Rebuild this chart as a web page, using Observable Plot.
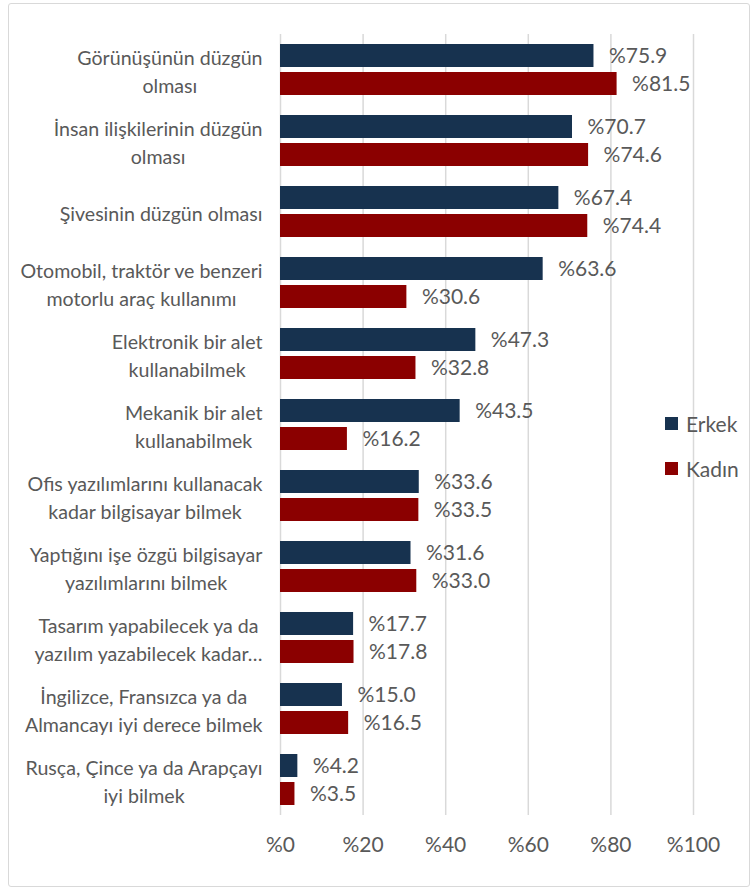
<!DOCTYPE html>
<html>
<head>
<meta charset="utf-8">
<script src="https://cdn.jsdelivr.net/npm/d3@7"></script>
<script src="https://cdn.jsdelivr.net/npm/@observablehq/plot@0.6"></script>
<style>
  html, body { margin: 0; padding: 0; background: #fff; }
  #wrap { position: relative; width: 756px; height: 891px; overflow: hidden; font-family: Lato, "Open Sans", sans-serif; }
  #frame { position: absolute; left: 8px; top: 3px; width: 742px; height: 884px; border: 1.5px solid #d9d9d9; border-radius: 3px; box-sizing: border-box; pointer-events: none; }
  #chart { position: absolute; left: 0; top: 0; }
  .leg { position: absolute; left: 665px; display: flex; align-items: center; font-size: 21px; color: #595959; }
  .leg span.sw { display: inline-block; width: 13px; height: 13px; margin-right: 8px; }
</style>
</head>
<body>
<div id="wrap">
  <div id="chart"></div>
  <div id="frame"></div>
  <div id="legend"></div>
</div>
<script>
const categories = [
  "Görünüşünün düzgün\nolması",
  "İnsan ilişkilerinin düzgün\nolması",
  "Şivesinin düzgün olması",
  "Otomobil, traktör ve benzeri\nmotorlu araç kullanımı",
  "Elektronik bir alet\nkullanabilmek",
  "Mekanik bir alet\nkullanabilmek",
  "Ofis yazılımlarını kullanacak\nkadar bilgisayar bilmek",
  "Yaptığını işe özgü bilgisayar\nyazılımlarını bilmek",
  "Tasarım yapabilecek ya da\nyazılım yazabilecek kadar…",
  "İngilizce, Fransızca ya da\nAlmancayı iyi derece bilmek",
  "Rusça, Çince ya da Arapçayı\niyi bilmek"
];
const series = ["Erkek", "Kadın"];
const erkek = [75.9, 70.7, 67.4, 63.6, 47.3, 43.5, 33.6, 31.6, 17.7, 15.0, 4.2];
const kadin = [81.5, 74.6, 74.4, 30.6, 32.8, 16.2, 33.5, 33.0, 17.8, 16.5, 3.5];
const xTicks = [0, 20, 40, 60, 80, 100];
const colors = ["#17324f", "#8b0000"];

const data = categories.flatMap((c, i) => [
  {cat: c, series: series[0], value: erkek[i]},
  {cat: c, series: series[1], value: kadin[i]}
]);
const fmt = d3.format(".1f");

const plot = Plot.plot({
  width: 756,
  height: 891,
  marginLeft: 280,
  marginRight: 63,
  marginTop: 31,
  marginBottom: 73,
  style: {fontFamily: "Lato, 'Open Sans', sans-serif", fontSize: "21px", color: "#595959", background: "transparent"},
  x: {domain: [0, 100], ticks: xTicks, tickFormat: d => "%" + d, tickSize: 0, tickPadding: 22, label: null},
  fy: {domain: categories, padding: 0, axis: null},
  y: {domain: series, paddingInner: 0.17, paddingOuter: 0.32, axis: null},
  color: {domain: series, range: colors},
  marks: [
    Plot.gridX(xTicks, {stroke: "#d9d9d9", strokeOpacity: 1, strokeWidth: 1.5}),
    Plot.barX(data, {fy: "cat", y: "series", x: "value", fill: "series"}),
    Plot.text(data, {fy: "cat", y: "series", x: "value", text: d => "%" + fmt(d.value), textAnchor: "start", dx: 15, fontSize: 21, fill: "#595959"}),
    Plot.text(categories, {fy: d => d, text: d => d, frameAnchor: "left", textAnchor: "end", dx: -18, fontSize: 19.6, lineHeight: 1.4, fill: "#595959", className: "catlab"})
  ]
});
document.getElementById("chart").appendChild(plot);

// center multi-line category labels relative to their longest line (right-aligned block)
plot.querySelectorAll("g.catlab text").forEach(t => {
  const spans = t.querySelectorAll("tspan");
  if (spans.length > 1) {
    let W = 0;
    spans.forEach(s => { W = Math.max(W, s.getComputedTextLength()); });
    t.setAttribute("text-anchor", "middle");
    spans.forEach(s => s.setAttribute("x", -W / 2));
  }
});

const legend = document.getElementById("legend");
const legendTops = [411, 456];
series.forEach((s, i) => {
  const el = document.createElement("div");
  el.className = "leg";
  el.style.top = legendTops[i] + "px";
  el.innerHTML = `<span class="sw" style="background:${colors[i]}"></span>${s}`;
  legend.appendChild(el);
});
</script>
</body>
</html>
